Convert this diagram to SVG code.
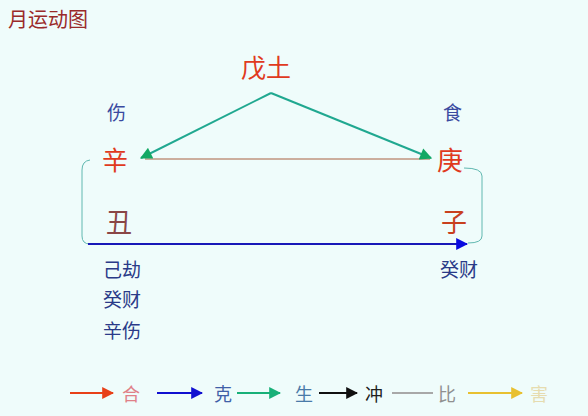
<svg xmlns="http://www.w3.org/2000/svg" width="588" height="416" viewBox="0 0 588 416">
<style>
text{font-family:"Noto Sans CJK SC","Noto Sans",sans-serif;}
.big{font-size:25px;fill:#e03a1e;}
.mid{font-size:19px;}
.lab{font-size:19px;fill:#2a3a88;}
.leg{font-size:18px;}
</style>
<defs>
<marker id="mGreen" viewBox="0 0 10 10" refX="9" refY="5" markerWidth="7" markerHeight="6" orient="auto" markerUnits="strokeWidth"><path d="M0,0L10,5L0,10z" fill="#14a864"/></marker>
<marker id="mBlue" viewBox="0 0 10 10" refX="9" refY="5" markerWidth="6" markerHeight="6" orient="auto" markerUnits="strokeWidth"><path d="M0,0L10,5L0,10z" fill="#0a0ae0"/></marker>
<marker id="lRed" viewBox="0 0 10 10" refX="9" refY="5" markerWidth="6" markerHeight="6" orient="auto" markerUnits="strokeWidth"><path d="M0,0L10,5L0,10z" fill="#e84018"/></marker>
<marker id="lBlue" viewBox="0 0 10 10" refX="9" refY="5" markerWidth="6" markerHeight="6" orient="auto" markerUnits="strokeWidth"><path d="M0,0L10,5L0,10z" fill="#1010d0"/></marker>
<marker id="lTeal" viewBox="0 0 10 10" refX="9" refY="5" markerWidth="6" markerHeight="6" orient="auto" markerUnits="strokeWidth"><path d="M0,0L10,5L0,10z" fill="#18b078"/></marker>
<marker id="lBlack" viewBox="0 0 10 10" refX="9" refY="5" markerWidth="6" markerHeight="6" orient="auto" markerUnits="strokeWidth"><path d="M0,0L10,5L0,10z" fill="#101010"/></marker>
<marker id="lYellow" viewBox="0 0 10 10" refX="9" refY="5" markerWidth="6" markerHeight="6" orient="auto" markerUnits="strokeWidth"><path d="M0,0L10,5L0,10z" fill="#e8c030"/></marker>
</defs>
<rect width="588" height="416" fill="#effcfb"/>
<text x="8" y="27" style="font-size:20px;fill:#9a2a2a">月运动图</text>

<g id="connectors" fill="none">
<line x1="145" y1="159" x2="430" y2="159" stroke="#a86040" stroke-width="1"/>
<path d="M271,93 L141,158" stroke="#20a890" stroke-width="2" marker-end="url(#mGreen)"/>
<path d="M271,93 L431,158" stroke="#20a890" stroke-width="2" marker-end="url(#mGreen)"/>
<path d="M90,160 Q82,161 82,170 L82,236 Q82,244 90,244" stroke="#60b8b0" stroke-width="1"/>
<path d="M464,168 Q482,168 482,176 L482,236 Q482,243 468,243" stroke="#60b8b0" stroke-width="1"/>
<line x1="88" y1="244" x2="467" y2="244" stroke="#1818b8" stroke-width="2" marker-end="url(#mBlue)"/>
</g>

<g id="node-wutu"><text class="big" x="241" y="77">戊土</text></g>
<g id="node-shang"><text class="mid" x="107" y="120" fill="#3a4aa0">伤</text></g>
<g id="node-shi"><text class="mid" x="443" y="120" fill="#3a4aa0">食</text></g>
<g id="node-xin"><text class="big" x="102" y="170" style="font-size:26px">辛</text></g>
<g id="node-geng"><text class="big" x="437" y="170" style="font-size:26px">庚</text></g>
<g id="node-chou"><text class="big" x="106" y="232" style="font-size:26px;fill:#8a4646">丑</text></g>
<g id="node-zi"><text class="big" x="441" y="232" style="font-size:26px;fill:#c8401e">子</text></g>
<g id="node-chou-hidden">
<text class="lab" x="103" y="277">己劫</text>
<text class="lab" x="103" y="307">癸财</text>
<text class="lab" x="103" y="338">辛伤</text>
</g>
<g id="node-zi-hidden"><text class="lab" x="440" y="277">癸财</text></g>

<g id="legend">
<line x1="70" y1="393" x2="113" y2="393" stroke="#e84018" stroke-width="2" marker-end="url(#lRed)"/>
<text class="leg" x="122" y="401" fill="#e08088">合</text>
<line x1="157" y1="393" x2="202" y2="393" stroke="#1010d0" stroke-width="2" marker-end="url(#lBlue)"/>
<text class="leg" x="214" y="401" fill="#4060a8">克</text>
<line x1="237" y1="393" x2="280" y2="393" stroke="#18b078" stroke-width="2" marker-end="url(#lTeal)"/>
<text class="leg" x="295" y="401" fill="#4a7aa8">生</text>
<line x1="319" y1="393" x2="357" y2="393" stroke="#101010" stroke-width="2" marker-end="url(#lBlack)"/>
<text class="leg" x="365" y="401" fill="#202020">冲</text>
<line x1="392" y1="393" x2="433" y2="393" stroke="#a8a8a8" stroke-width="2"/>
<text class="leg" x="438" y="401" fill="#909090">比</text>
<line x1="468" y1="393" x2="522" y2="393" stroke="#e8c030" stroke-width="2" marker-end="url(#lYellow)"/>
<text class="leg" x="530" y="401" fill="#e6dcb0">害</text>
</g>
</svg>
